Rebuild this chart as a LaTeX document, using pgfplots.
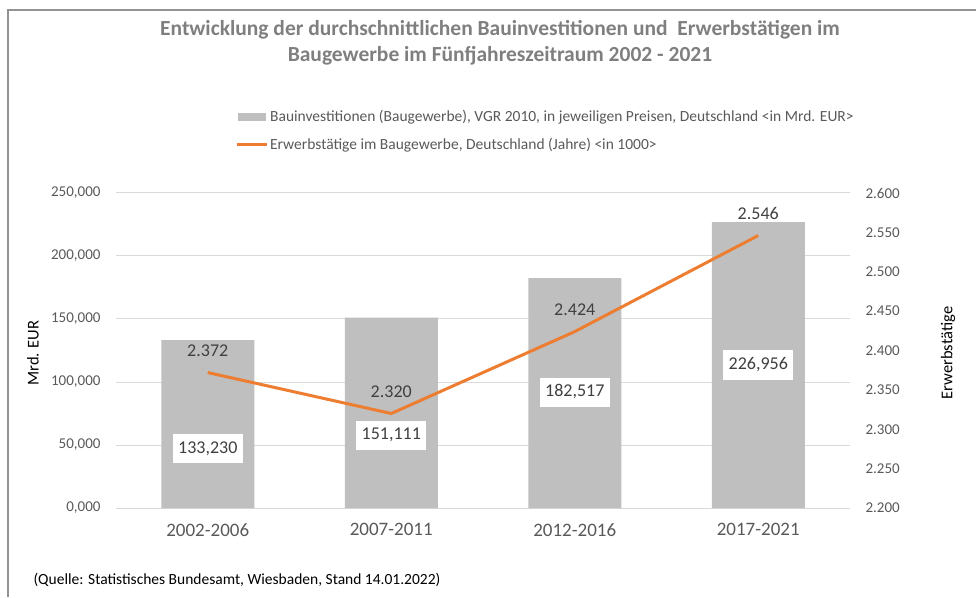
\documentclass[border=0pt]{standalone}
\usepackage{fontspec}
\setmainfont{Carlito}
\usepackage{pgfplots}
\pgfplotsset{compat=1.18}
\definecolor{barg}{HTML}{BFBFBF}
\definecolor{lineo}{HTML}{ED7D31}
\definecolor{txtg}{HTML}{595959}
\definecolor{lblg}{HTML}{404040}
\definecolor{gridg}{HTML}{D9D9D9}
\definecolor{titleg}{HTML}{7F7F7F}
\newcommand{\fs}[1]{\fontsize{#1}{#1}\selectfont}

\begin{document}
\begin{tikzpicture}
\useasboundingbox (-116pt,-89pt) rectangle (860pt,508pt);
\draw[gray!85, line width=1.6pt] (-108pt,-89pt) -- (-108pt,498pt) -- (860pt,498pt);

\node[font=\fs{21.5}\bfseries, text=titleg, align=center] at (384pt,465pt)
  {Entwicklung der durchschnittlichen Bauinvestitionen und \ Erwerbstätigen im\\[4pt]
   Baugewerbe im Fünfjahreszeitraum 2002 - 2021};

\begin{axis}[
  at={(0pt,0pt)}, anchor=south west, scale only axis,
  width=734pt, height=315pt,
  xmin=-0.5, xmax=3.5, ymin=0, ymax=250000,
  xtick={0,1,2,3}, xticklabels={2002-2006,2007-2011,2012-2016,2017-2021},
  ytick={0,50000,100000,150000,200000,250000},
  yticklabels={{0,000},{50,000},{100,000},{150,000},{200,000},{250,000}},
  scaled y ticks=false,
  axis line style={draw=none}, major tick style={draw=none},
  ymajorgrids, grid style={gridg, line width=1pt},
  x tick label style={font=\fs{19}, text=txtg, yshift=-12pt},
  y tick label style={font=\fs{15}, text=txtg, xshift=-12pt},
  legend style={at={(rel axis cs:0.158,1.276)}, anchor=north west, draw=none, fill=none,
    font=\fs{15.5}, text=txtg, row sep=11pt, cells={anchor=west},
    /tikz/every even column/.append style={column sep=2pt}},
]
\addplot[ybar, bar width=93pt, fill=barg, draw=none,
  legend image code/.code={\fill[barg] (0pt,-4pt) rectangle (28pt,4pt);}]
  coordinates {(0,133230) (1,151111) (2,182517) (3,226956)};
\addlegendentry{Bauinvestitionen (Baugewerbe), VGR 2010, in jeweiligen Preisen, Deutschland <in Mrd. EUR>}
\addlegendimage{legend image code/.code={\draw[lineo, line width=3pt] (-1pt,0pt) -- (29pt,0pt);}}
\addlegendentry{Erwerbstätige im Baugewerbe, Deutschland (Jahre) <in 1000>}

\begin{scope}[every node/.style={fill=white, font=\fs{18}, text=lblg, inner xsep=5.5pt, minimum height=29pt}]
\node at (axis cs:0,47222) {133,230};
\node at (axis cs:1,57937) {151,111};
\node at (axis cs:2,92063) {182,517};
\node at (axis cs:3,113492) {226,956};
\end{scope}
\end{axis}

\begin{axis}[
  at={(0pt,0pt)}, anchor=south west, scale only axis,
  width=734pt, height=315pt,
  xmin=-0.5, xmax=3.5, ymin=2.2, ymax=2.6,
  hide x axis, axis y line*=right,
  axis line style={draw=none}, major tick style={draw=none},
  ytick={2.2,2.25,2.3,2.35,2.4,2.45,2.5,2.55,2.6},
  yticklabels={2.200,2.250,2.300,2.350,2.400,2.450,2.500,2.550,2.600},
  y tick label style={font=\fs{15}, text=txtg, xshift=12pt},
]
\addplot[lineo, line width=3pt, mark=none,
  nodes near coords, point meta=explicit symbolic,
  every node near coord/.style={font=\fs{18}, text=lblg, anchor=center, yshift=22pt}]
  coordinates {(0,2.372) [2.372] (1,2.320) [2.320] (2,2.424) [2.424] (3,2.546) [2.546]};
\end{axis}

\node[font=\fs{16.5}, rotate=90, text=black] at (-83pt,155pt) {Mrd. EUR};
\node[font=\fs{16.5}, rotate=90, text=black] at (832pt,155pt) {Erwerbstätige};
\node[font=\fs{15.5}, anchor=west, text=black] at (-86pt,-72pt)
  {(Quelle: Statistisches Bundesamt, Wiesbaden, Stand 14.01.2022)};
\end{tikzpicture}
\end{document}
